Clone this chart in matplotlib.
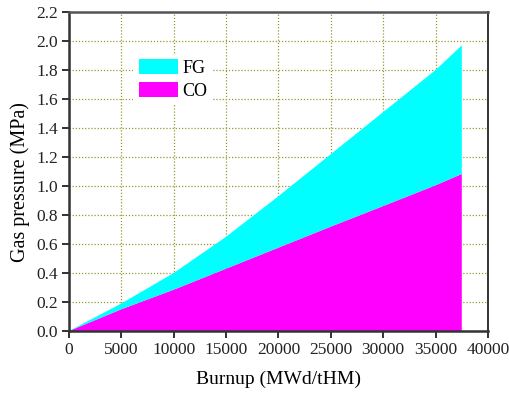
import matplotlib
matplotlib.use('Agg')
import matplotlib.pyplot as plt
from matplotlib.patches import Patch

# burnup points (MWd/tHM) and gas pressures
burnup = [0, 5000, 10000, 15000, 20000, 25000, 30000, 35000, 37500]
co_pressure = [0, 0.15, 0.285, 0.43, 0.575, 0.72, 0.862, 1.005, 1.083]
total_pressure = [0, 0.19, 0.40, 0.65, 0.93, 1.22, 1.51, 1.80, 1.97]
fg_pressure = [t - c for t, c in zip(total_pressure, co_pressure)]

series_names = ['FG', 'CO']
series_colors = ['#00ffff', '#ff00ff']

x_ticks = list(range(0, 40001, 5000))
y_ticks = [round(0.2 * i, 1) for i in range(12)]

plt.rcParams['font.family'] = ['Liberation Serif', 'DejaVu Serif']

fig = plt.figure(figsize=(5.09, 3.95), dpi=100)
ax = fig.add_axes([0.1356, 0.162, 0.8231, 0.8076])

# stacked areas: CO at the bottom, FG on top
ax.stackplot(burnup, co_pressure, fg_pressure,
             colors=[series_colors[1], series_colors[0]], linewidth=0, zorder=2)

ax.set_xlim(0, 40000)
ax.set_ylim(0, 2.2)
ax.set_xticks(x_ticks)
ax.set_yticks(y_ticks)
ax.set_yticklabels(['%.1f' % v for v in y_ticks])

ax.grid(True, color='#999933', linestyle=(0, (1, 1.5)), linewidth=0.9, zorder=0)
ax.set_axisbelow(True)

ax.tick_params(direction='out', length=5, width=1.3, labelsize=12.5, colors='#222222',
               top=False, right=False, pad=3)
for side in ['left', 'bottom']:
    ax.spines[side].set_linewidth(1.8)
    ax.spines[side].set_color('#333333')
ax.spines['top'].set_linewidth(1.8)
ax.spines['top'].set_color('#555555')
ax.spines['right'].set_linewidth(1.2)
ax.spines['right'].set_color('#111111')

ax.set_xlabel('Burnup (MWd/tHM)', fontsize=14, labelpad=9)
ax.set_ylabel('Gas pressure (MPa)', fontsize=14.5)
ax.yaxis.set_label_coords(-0.092, 0.466)

handles = [Patch(facecolor=c, edgecolor='none') for c in series_colors]
leg = ax.legend(handles, series_names, loc='upper left', bbox_to_anchor=(0.153, 0.869),
                borderaxespad=0, fontsize=13, frameon=True, fancybox=False,
                edgecolor='none', framealpha=1, handlelength=2.17, handleheight=0.9,
                handletextpad=0.25, labelspacing=0.28, borderpad=0.3)
leg.get_frame().set_linewidth(0)

fig.savefig('out.png', dpi=100)
